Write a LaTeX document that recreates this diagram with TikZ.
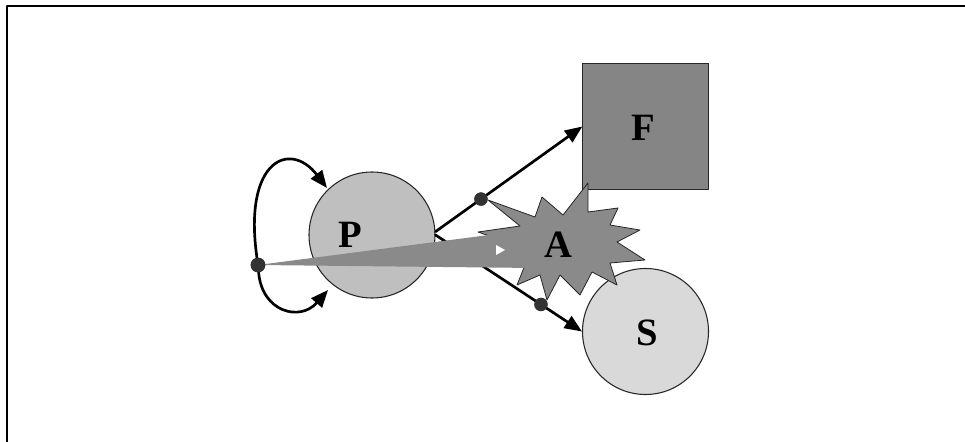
\documentclass[tikz,border=0pt]{standalone}
\usepackage{fontspec}
\setmainfont{Liberation Serif}
\usetikzlibrary{arrows.meta}
\begin{document}
\begin{tikzpicture}[x=0.75pt, y=-0.75pt, line join=round, line cap=round,
	>={Triangle[length=13pt,width=10.5pt]},
	lbl/.style={font=\bfseries\fontsize{29}{30}\selectfont, inner sep=0pt},
	dot/.style={circle, fill=black!80, inner sep=0pt, minimum size=10pt},
	arr/.style={->, line width=2pt},
	ball/.style={circle, draw=black!85, line width=0.8pt, inner sep=0pt, minimum size=94.5pt}]
	\useasboundingbox (0,0) rectangle (965,442);
	\draw[line width=1.5pt] (7,442) -- (7,6) -- (965,6);
	% states
	\node[ball, fill=black!25] (P) at (372,235) {};
	\node[ball, fill=black!15] (S) at (645.5,331.5) {};
	\node[draw=black!85, line width=0.8pt, fill=black!48, minimum size=94pt, inner sep=0pt] (F) at (645.5,126.5) {};
	% arrows out of P
	\draw[arr] (P.3) -- (F.west) node[dot, pos=0.31] (d1) {};
	\draw[arr] (P.east) -- (S.west) node[dot, pos=0.72] (d2) {};
	% explosion
	\filldraw[fill=black!46, draw=black!85, line width=0.6pt] (488,200) -- (535,217) -- (542,197) -- (563,215) -- (588,183) -- (588,212) -- (618,208) -- (610,225) -- (640,230) -- (617,242) -- (645,260) -- (610,263) -- (617,285) -- (592,272) -- (580,295) -- (560,275) -- (547,300) -- (540,275) -- (517,285) -- (525,265) -- (495,258) -- (515,245) -- (478,232) -- (520,226) -- cycle;
	% self loops
	\node[dot, minimum size=11pt] (o) at (258,265) {};
	\draw[arr] (o) .. controls (243,160) and (290,140) .. (327,188);
	\draw[arr] (o) .. controls (262,312) and (300,322) .. (328,290);
	% wedge
	\coordinate (wt) at (535,229);
	\coordinate (wb) at (535,268);
	\fill[black!46] (o.center) -- (wt) -- (wb) -- cycle;
	\fill[white] (496,245) -- (505,250) -- (496,255) -- cycle;
	\node[dot] at (d1) {};
	\node[dot] at (d2) {};
	\node[dot, minimum size=11pt] at (o) {};
	% labels
	\node[lbl] (Pl) at (350,235) {P};
	\node[lbl] (Fl) at (643,128) {F};
	\node[lbl] (Sl) at (647,333) {S};
	\node[lbl] (Al) at (558,245) {A};
\end{tikzpicture}
\end{document}
